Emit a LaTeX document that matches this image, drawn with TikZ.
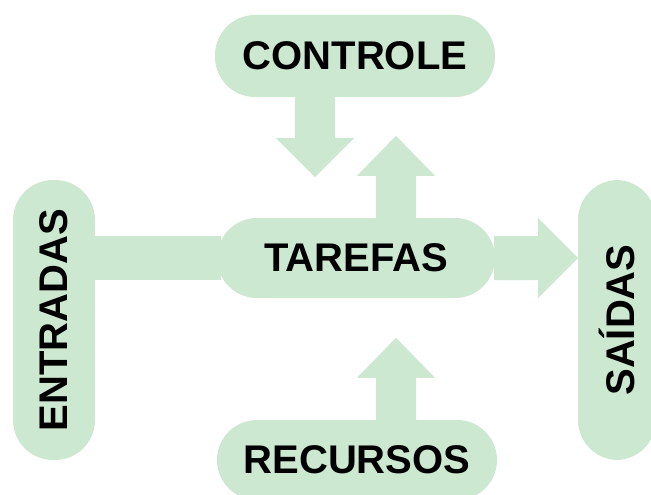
\documentclass[tikz,border=0pt]{standalone}
\usepackage{fontspec}
\setmainfont{Liberation Sans}
\usetikzlibrary{calc}
\definecolor{palegreen}{RGB}{205,232,208}
\tikzset{
  pill/.style={fill=palegreen, rounded corners=40pt, inner sep=0pt,
    font=\fontsize{40}{40}\selectfont\bfseries, text=black},
  flow/.style={fill=palegreen}
}
\begin{document}
\begin{tikzpicture}[x=1pt, y=-1pt]
  \useasboundingbox (0,0) rectangle (651,495);
  \clip (0,0) rectangle (651,495);
  \fill[white] (0,0) rectangle (651,495);

  % the five blocks
  \node[pill, minimum width=280pt, minimum height=82pt] (ctrl) at (355,56) {CONTROLE};
  \node[pill, minimum width=278pt, minimum height=80pt] (task) at (356,258) {TAREFAS};
  \node[pill, minimum width=280pt, minimum height=80pt] (res) at (357,460) {RECURSOS};
  \node[pill, minimum width=280pt, minimum height=82pt, rotate=90] (inp) at (54,320) {ENTRADAS};
  \node[pill, minimum width=280pt, minimum height=78pt, rotate=90] (out) at (617,320) {SAÍDAS};

  % inputs feed the tasks
  \fill[flow] ($(inp.south |- task.west)+(-1,-22)$) rectangle ($(task.west)+(4,22)$);

  % control points down
  \fill[flow] ($(ctrl.south)+(-60,-1)$) -- ++(0,42) -- ++(-19,0) -- ++(39,39)
    -- ++(39,-39) -- ++(-19,0) -- ++(0,-42) -- cycle;

  % feedback from the tasks up to control
  \fill[flow] ($(task.north)+(20,1)$) -- ++(0,-43) -- ++(-19,0) -- ++(39,-40)
    -- ++(39,40) -- ++(-19,0) -- ++(0,43) -- cycle;

  % resources point up to the tasks
  \fill[flow] ($(res.north)+(19,1)$) -- ++(0,-43) -- ++(-19,0) -- ++(39,-40)
    -- ++(39,40) -- ++(-19,0) -- ++(0,43) -- cycle;

  % tasks lead to the outputs
  \fill[flow] ($(task.east)+(-1,-22)$) -- ++(44,0) -- ++(0,-18) -- ++(40,40)
    -- ++(-40,40) -- ++(0,-18) -- ++(-44,0) -- cycle;
\end{tikzpicture}
\end{document}
